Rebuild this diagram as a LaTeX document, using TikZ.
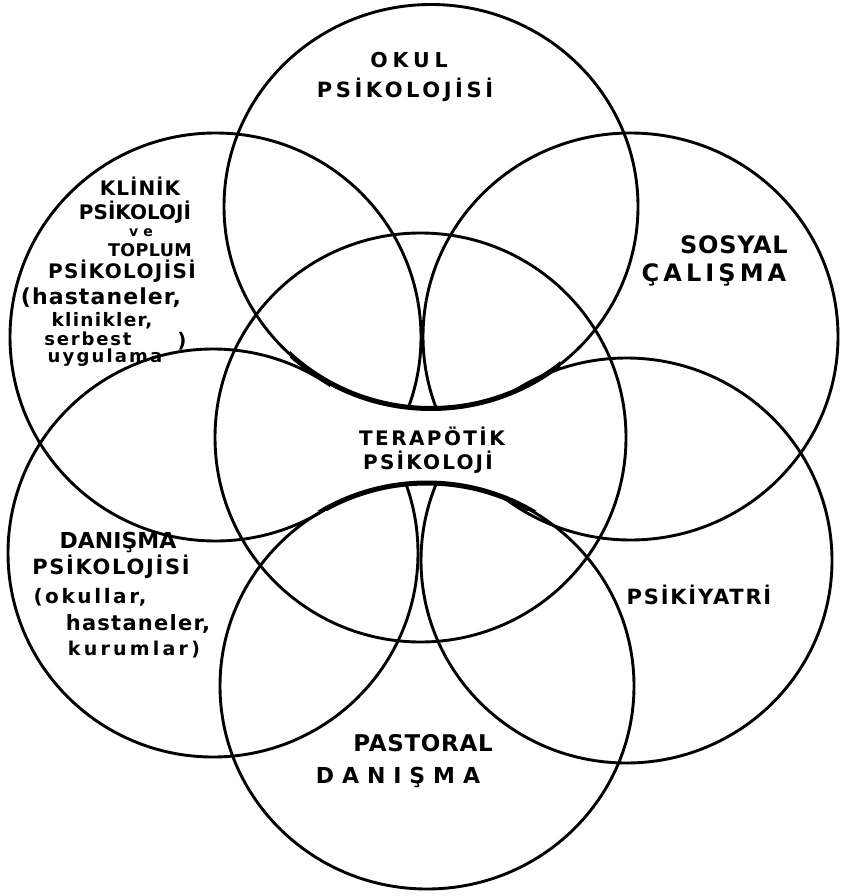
\documentclass[tikz,border=0pt]{standalone}
\usepackage{fontspec}
\newfontfamily\hand{DejaVu Sans}
\newcommand\hw[2]{\hand\bfseries\fontsize{#1}{#1}\selectfont\addfontfeature{LetterSpace=#2}}
\begin{document}
\begin{tikzpicture}[x=1pt,y=-1pt,
  circ/.style={line width=2.9pt},
  neck/.style={line width=5pt},
  lab/.style={inner sep=0pt, anchor=base}]
\useasboundingbox[fill=white] (0,0) rectangle (842,896);
% the four diagonal circles
\draw[circ] (215.5,337) ellipse [x radius=205.5pt, y radius=204pt];
\draw[circ] (630.5,336.5) ellipse [x radius=207.5pt, y radius=203.5pt];
\draw[circ] (213,553) ellipse [x radius=205pt, y radius=204pt];
\draw[circ] (626.5,560.5) ellipse [x radius=205.5pt, y radius=202.5pt];
% clear the central area around the title
\begin{scope}
  \clip (420.5,437.5) ellipse [x radius=205.5pt, y radius=204.5pt];
  \clip (330,300) rectangle (520,580);
  \fill[white, even odd rule] (300,300) rectangle (560,600)
     (431,206.5) ellipse [x radius=207pt, y radius=202pt]
     (427,686) ellipse [x radius=207pt, y radius=203pt];
\end{scope}
% centre, top and bottom circles
\draw[circ] (420.5,437.5) ellipse [x radius=205.5pt, y radius=204.5pt];
\draw[circ] (431,206.5) ellipse [x radius=207pt, y radius=202pt];
\draw[circ] (427,686) ellipse [x radius=207pt, y radius=203pt];
% thick rims of the central area
\begin{scope}
  \clip (420.5,437.5) ellipse [x radius=205.5pt, y radius=204.5pt];
  \clip (290,340) rectangle (560,510);
  \draw[neck] (431,206.5) ellipse [x radius=207pt, y radius=202pt];
  \draw[neck] (427,686) ellipse [x radius=207pt, y radius=203pt];
\end{scope}
% labels
\node[lab, font=\hw{20.5}{24}] (t1) at (409,68) {OKUL};
\node[lab, font=\hw{21}{17}] (t2) at (405,97.5) {PSİKOLOJİSİ};

\node[lab, font=\hw{20}{5}] (ul1) at (140,196) {KLİNİK};
\node[lab, font=\hw{20}{0}] (ul2) at (135,219) {PSİKOLOJİ};
\node[lab, font=\hw{14}{35}] (ul3) at (141,236) {ve};
\node[lab, font=\hw{17.5}{2}] (ul4) at (150,256) {TOPLUM};
\node[lab, font=\hw{20}{7}] (ul5) at (122,278) {PSİKOLOJİSİ};
\node[lab, font=\hw{22}{5}] (ul6) at (101,304) {(hastaneler,};
\node[lab, font=\hw{18.5}{7}] (ul7) at (102,326) {klinikler,};
\node[lab, font=\hw{18}{10}] (ul8) at (88,345) {serbest};
\node[lab, font=\hw{20}{0}] (ul10) at (182,347) {)};
\node[lab, font=\hw{18}{12}] (ul9) at (105,362) {uygulama};

\node[lab, font=\hw{24}{3}] (ur1) at (734,253) {SOSYAL};
\node[lab, font=\hw{24}{17}] (ur2) at (714,281) {ÇALIŞMA};

\node[lab, font=\hw{20}{12}] (c1) at (432,445) {TERAPÖTİK};
\node[lab, font=\hw{20}{11}] (c2) at (428,469) {PSİKOLOJİ};

\node[lab, font=\hw{22}{0}] (ll1) at (118,548) {DANIŞMA};
\node[lab, font=\hw{21}{8}] (ll2) at (111,574) {PSİKOLOJİSİ};
\node[lab, font=\hw{20}{13}] (ll3) at (90,603) {(okullar,};
\node[lab, font=\hw{21}{6}] (ll4) at (138,630) {hastaneler,};
\node[lab, font=\hw{19}{17}] (ll5) at (134,655) {kurumlar)};

\node[lab, font=\hw{21}{8.5}] (lr) at (699,604) {PSİKİYATRİ};

\node[lab, font=\hw{23}{3}] (b1) at (423,751) {PASTORAL};
\node[lab, font=\hw{22}{36}] (b2) at (398,783) {DANIŞMA};
\end{tikzpicture}
\end{document}
